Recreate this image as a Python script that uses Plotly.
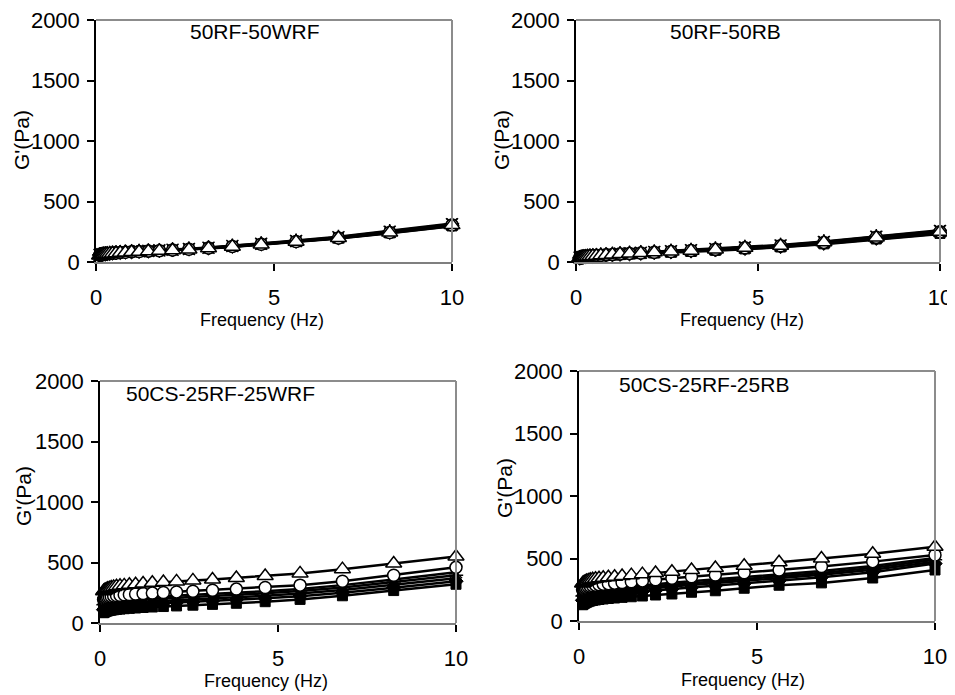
import plotly.graph_objects as go

# the page shows the figure with an 8 px body margin, so pixel positions
# measured on the reference are shifted by OFF
OFF = 8
W, H = 955 - OFF, 695 - OFF

# Frequency (Hz), shared by all panels
freq = [0.1, 0.121, 0.147, 0.178, 0.215, 0.261, 0.316, 0.383, 0.464, 0.562, 0.681, 0.825,
        1.0, 1.21, 1.47, 1.78, 2.15, 2.61, 3.16, 3.83, 4.64, 5.62, 6.81, 8.25, 10.0]

panel_titles = ["50RF-50WRF", "50RF-50RB", "50CS-25RF-25WRF", "50CS-25RF-25RB"]
x_ticks = [0, 5, 10]
y_ticks = [0, 500, 1000, 1500, 2000]

# G'(Pa) for each panel, series drawn bottom -> top
tl_square = [55, 57, 59, 61, 63, 65, 67, 69, 71, 74, 77, 80, 83, 86, 89, 93, 98, 105, 114, 128, 146, 168, 196, 240, 298]
tl_diamond = [57, 59, 61, 63, 65, 67, 69, 71, 73, 76, 79, 82, 85, 88, 91, 95, 100, 107, 116, 130, 149, 171, 200, 245, 304]
tl_tri = [53, 55, 57, 59, 61, 63, 65, 67, 69, 72, 75, 78, 81, 84, 87, 91, 96, 102, 111, 125, 143, 165, 194, 238, 296]
tl_x = [58, 60, 62, 64, 66, 68, 70, 72, 74, 77, 80, 83, 86, 89, 92, 96, 101, 108, 118, 132, 151, 174, 204, 250, 312]
tl_star = [60, 62, 64, 66, 68, 70, 72, 74, 76, 79, 82, 85, 88, 91, 94, 98, 103, 110, 120, 134, 153, 177, 208, 255, 318]
tl_circle = [56, 58, 60, 62, 64, 66, 68, 70, 72, 75, 78, 81, 84, 87, 90, 94, 99, 106, 115, 129, 147, 170, 199, 244, 306]
tl_otri = [54, 56, 58, 60, 62, 64, 66, 68, 70, 73, 76, 79, 82, 85, 88, 92, 97, 104, 113, 127, 145, 168, 198, 243, 305]

tr_square = [30, 32, 34, 36, 38, 40, 42, 44, 46, 48, 51, 54, 57, 61, 65, 69, 74, 80, 87, 96, 108, 124, 150, 190, 236]
tr_diamond = [32, 34, 36, 38, 40, 42, 44, 46, 48, 50, 53, 56, 60, 64, 68, 72, 77, 83, 91, 100, 112, 128, 155, 196, 242]
tr_tri = [29, 31, 33, 35, 37, 39, 41, 43, 45, 47, 50, 53, 56, 60, 64, 68, 72, 78, 85, 94, 106, 121, 147, 186, 232]
tr_x = [36, 38, 40, 42, 44, 46, 48, 50, 53, 55, 58, 61, 65, 69, 73, 77, 83, 89, 97, 107, 120, 137, 165, 208, 256]
tr_star = [38, 40, 42, 44, 46, 48, 50, 52, 55, 57, 60, 63, 67, 71, 75, 80, 86, 92, 100, 111, 124, 141, 170, 214, 262]
tr_circle = [35, 37, 39, 41, 43, 45, 47, 49, 51, 53, 56, 59, 63, 67, 71, 75, 81, 87, 95, 105, 118, 134, 162, 204, 250]
tr_otri = [33, 35, 37, 39, 41, 43, 45, 47, 50, 52, 55, 58, 62, 66, 70, 74, 80, 86, 94, 104, 117, 135, 163, 203, 250]

bl_square = [85, 89, 93, 97, 100, 103, 106, 109, 112, 115, 118, 121, 124, 128, 132, 136, 141, 147, 154, 163, 176, 195, 225, 268, 320]
bl_diamond = [110, 114, 118, 122, 126, 130, 133, 136, 139, 142, 145, 148, 151, 155, 159, 164, 169, 175, 182, 192, 204, 222, 250, 292, 345]
bl_tri = [130, 134, 138, 142, 146, 150, 153, 156, 159, 162, 165, 168, 171, 175, 179, 184, 189, 195, 202, 212, 225, 244, 273, 316, 370]
bl_x = [165, 169, 173, 177, 181, 185, 189, 193, 196, 199, 202, 205, 208, 212, 216, 221, 226, 232, 239, 249, 262, 282, 313, 360, 420]
bl_star = [150, 154, 158, 162, 166, 170, 173, 176, 179, 182, 185, 188, 191, 195, 199, 204, 209, 215, 222, 232, 245, 264, 293, 338, 395]
bl_circle = [195, 200, 204, 208, 212, 216, 220, 224, 227, 230, 233, 236, 239, 243, 247, 252, 257, 263, 270, 280, 293, 313, 345, 395, 460]
bl_otri = [262, 268, 273, 278, 283, 288, 293, 298, 303, 307, 311, 316, 320, 326, 332, 338, 344, 352, 360, 372, 388, 410, 445, 492, 550]

br_square = [130, 135, 140, 145, 150, 155, 160, 164, 168, 172, 176, 180, 184, 189, 194, 200, 208, 216, 230, 242, 262, 286, 305, 344, 408]
br_diamond = [165, 170, 175, 180, 185, 190, 194, 198, 202, 206, 210, 214, 218, 223, 229, 236, 245, 256, 268, 282, 300, 322, 350, 390, 460]
br_tri = [185, 190, 195, 200, 205, 210, 214, 218, 222, 226, 230, 234, 238, 243, 249, 256, 265, 276, 288, 302, 320, 342, 370, 410, 475]
br_x = [215, 220, 225, 230, 235, 240, 244, 248, 252, 256, 260, 264, 268, 273, 279, 286, 295, 306, 318, 332, 350, 372, 400, 440, 505]
br_star = [200, 205, 210, 215, 220, 225, 229, 233, 237, 241, 245, 249, 253, 258, 264, 271, 280, 291, 303, 317, 335, 357, 385, 425, 490]
br_circle = [250, 255, 260, 265, 270, 275, 279, 283, 287, 291, 295, 299, 303, 308, 314, 321, 330, 342, 354, 368, 386, 408, 436, 475, 528]
br_otri = [300, 305, 310, 315, 320, 325, 330, 334, 338, 342, 346, 350, 354, 360, 367, 375, 384, 394, 408, 424, 442, 470, 500, 538, 594]

panels = [
    [tl_square, tl_diamond, tl_tri, tl_x, tl_star, tl_circle, tl_otri],
    [tr_square, tr_diamond, tr_tri, tr_x, tr_star, tr_circle, tr_otri],
    [bl_square, bl_diamond, bl_tri, bl_x, bl_star, bl_circle, bl_otri],
    [br_square, br_diamond, br_tri, br_x, br_star, br_circle, br_otri],
]

marker_styles = [
    dict(symbol="square", size=10, color="black", line=dict(color="black", width=1)),
    dict(symbol="diamond", size=11, color="black", line=dict(color="black", width=1)),
    dict(symbol="triangle-up", size=11, color="black", line=dict(color="black", width=1)),
    dict(symbol="x-thin-open", size=12, color="black", line=dict(color="black", width=1.5)),
    dict(symbol="asterisk-open", size=12, color="black", line=dict(color="black", width=1.5)),
    dict(symbol="circle", size=12, color="white", line=dict(color="black", width=1.5)),
    dict(symbol="triangle-up", size=14, color="white", line=dict(color="black", width=1.5)),
]

# positions measured on the reference image (pixels, top-left origin)
boxes = [(96, 20, 452, 262), (576, 20, 940, 262), (100, 381, 456, 623), (579, 371, 935, 621)]
title_pos = [(255, 31), (725, 31), (220, 393), (704, 384)]
xlab_pos = [(262, 320), (742, 320), (266, 681), (743, 680)]
ylab_pos = [(21, 140), (501, 140), (24, 496), (504, 488)]


def px(x):
    return (x - OFF) / W


def py(y):
    return 1 - (y - OFF) / H


FONT = "Liberation Sans, Arial, sans-serif"

fig = go.Figure()
for i, series in enumerate(panels):
    xa = "x" if i == 0 else f"x{i+1}"
    ya = "y" if i == 0 else f"y{i+1}"
    for s, ms in zip(series, marker_styles):
        fig.add_trace(go.Scatter(x=freq, y=s, mode="lines+markers", xaxis=xa, yaxis=ya,
                                 line=dict(color="black", width=2.5), marker=ms,
                                 cliponaxis=False, showlegend=False))
    l, t, r, b = boxes[i]
    xd = [px(l), px(r)]
    yd = [py(b), py(t)]
    sfx = "" if i == 0 else str(i + 1)
    fig.layout["xaxis" + sfx] = dict(domain=xd, range=[0, 10], tickvals=x_ticks, anchor=ya,
                                     showline=True, linecolor="#7f7f7f", linewidth=2,
                                     ticks="outside", ticklen=7, tickcolor="black", tickwidth=1.5,
                                     showgrid=False, zeroline=False, ticklabelstandoff=8,
                                     automargin=False, ticklabeloverflow="allow",
                                     tickfont=dict(family=FONT, size=22, color="black"))
    fig.layout["yaxis" + sfx] = dict(domain=yd, range=[0, 2000], tickvals=y_ticks, anchor=xa,
                                     showline=True, linecolor="black", linewidth=1.5,
                                     ticks="outside", ticklen=7, tickcolor="black", tickwidth=1.5,
                                     showgrid=False, zeroline=False, ticklabelstandoff=3,
                                     automargin=False, ticklabeloverflow="allow",
                                     tickfont=dict(family=FONT, size=22, color="black"))
    # gray top and right borders
    fig.add_shape(type="line", xref="paper", yref="paper", x0=xd[0], x1=xd[1], y0=yd[1], y1=yd[1],
                  line=dict(color="#8c8c8c", width=2))
    fig.add_shape(type="line", xref="paper", yref="paper", x0=xd[1], x1=xd[1], y0=yd[0], y1=yd[1],
                  line=dict(color="#8c8c8c", width=2))
    tx, ty = title_pos[i]
    fig.add_annotation(x=px(tx), y=py(ty), xref="paper", yref="paper", text=panel_titles[i],
                       xanchor="center", yanchor="middle",
                       showarrow=False, font=dict(family=FONT, size=21, color="black"))
    fx, fy = xlab_pos[i]
    fig.add_annotation(x=px(fx), y=py(fy), xref="paper", yref="paper", text="Frequency (Hz)",
                       xanchor="center", yanchor="middle",
                       showarrow=False, font=dict(family=FONT, size=18, color="black"))
    gx, gy = ylab_pos[i]
    fig.add_annotation(x=px(gx), y=py(gy), xref="paper", yref="paper", text="G'(Pa)",
                       xanchor="center", yanchor="middle",
                       textangle=-90, showarrow=False, font=dict(family=FONT, size=21, color="black"))

fig.update_layout(width=W, height=H, margin=dict(l=0, r=0, t=0, b=0, autoexpand=False),
                  paper_bgcolor="white", plot_bgcolor="white", showlegend=False)

fig.write_html("out.html")
